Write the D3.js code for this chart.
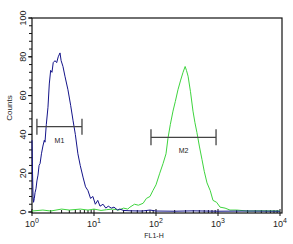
<!DOCTYPE html>
<html>
<head>
<meta charset="utf-8">
<script src="https://cdn.jsdelivr.net/npm/d3@7"></script>
<style>
  body { margin: 0; background: #fff; }
  text { font-family: "Liberation Sans", Arial, sans-serif; fill: #222; }
</style>
</head>
<body>
<div class="chart"></div>
<script>
// blue histogram (control), FL1-H value and counts
const blueX = [1.0, 1.02, 1.04, 1.06, 1.09, 1.12, 1.16, 1.2, 1.25, 1.3, 1.35, 1.42, 1.5, 1.58, 1.62, 1.7, 1.81, 1.9, 2.0, 2.1, 2.2, 2.35, 2.5, 2.65, 2.83, 2.95, 3.16, 3.4, 3.8, 4.2, 4.6, 5.0, 5.5, 6.0, 6.65, 7.3, 8.0, 8.8, 9.6, 10.5, 11.5, 12.5, 14, 15.5, 17, 19, 21, 24, 26, 30, 40, 60, 80, 100, 200, 400, 600, 1000, 3000, 10000];
const blueY = [37, 20, 8, 5, 7, 10, 12, 16, 19, 24, 25, 30, 34, 37, 36, 45, 54, 66, 73, 72, 77, 78, 77, 80, 82, 78, 75, 70, 63, 55, 47, 40, 30, 24, 18, 13, 11, 7, 8, 4, 6, 3, 4, 2, 3, 2, 2.5, 1, 1.5, 0.8, 0.6, 0.5, 1, 0.5, 0.4, 0.6, 0.5, 0.4, 0.5, 0.4];

// green histogram (stained)
const greenX = [1.0, 1.5, 2, 3, 4, 6, 8, 10, 13, 16, 20, 25, 30, 35, 38, 45, 52, 62, 70, 80, 89, 100, 115, 130, 145, 156, 170, 188, 205, 226, 250, 273, 295, 310, 329, 360, 395, 425, 457, 500, 552, 600, 665, 750, 830, 950, 1080, 1300, 1560, 2000, 3000, 5000, 10000];
const greenY = [0.5, 1, 0.5, 1.5, 1, 1.5, 1, 1.5, 0.8, 1.2, 1.5, 1, 2, 1.5, 2.5, 4, 3.5, 4.5, 7, 8, 11, 14, 20, 25, 30, 38, 45, 52, 57, 63, 68, 72, 75, 73, 70, 62, 52, 46, 41, 34, 27, 21, 15, 11, 6, 5, 2.5, 2, 1, 1, 0.5, 0.6, 0.5];

// gate markers
const markerNames = ['M1', 'M2'];
const markerFrom = [1.2, 83];
const markerTo = [6.4, 930];
const markerLevel = [44, 38.5];

const yTicks = [0, 20, 40, 60, 80, 100];
const xDecades = [0, 1, 2, 3, 4];

const width = 293, height = 244;
const svg = d3.select('.chart').append('svg')
  .attr('width', width)
  .attr('height', height);

const x = d3.scaleLog().domain([1, 10000]).range([32, 280]);
const y = d3.scaleLinear().domain([0, 100]).range([212, 18]);

// frame
svg.append('rect')
  .attr('x', 32).attr('y', 18)
  .attr('width', 250).attr('height', 195)
  .attr('fill', 'none')
  .attr('stroke', '#111')
  .attr('stroke-width', 1.2);

// y ticks
const yMinor = d3.range(0, 101, 4);
svg.selectAll('.ymin')
  .data(yMinor)
  .enter().append('line')
  .attr('x1', 29).attr('x2', 32)
  .attr('y1', d => y(d)).attr('y2', d => y(d))
  .attr('stroke', '#111');
svg.selectAll('.ymaj')
  .data(yTicks)
  .enter().append('line')
  .attr('x1', 28).attr('x2', 32)
  .attr('y1', d => y(d)).attr('y2', d => y(d))
  .attr('stroke', '#111');
svg.selectAll('.ylab')
  .data(yTicks)
  .enter().append('text')
  .attr('transform', d => 'translate(26,' + y(d) + ') rotate(-90)')
  .attr('text-anchor', 'middle')
  .attr('font-size', 9)
  .text(d => d);

svg.append('text')
  .attr('transform', 'translate(12,108) rotate(-90)')
  .attr('text-anchor', 'middle')
  .attr('font-size', 8)
  .text('Counts');

// x ticks (log)
const xMinor = [];
xDecades.slice(0, -1).forEach(function(e) {
  for (let k = 2; k < 10; k++) xMinor.push(k * Math.pow(10, e));
});
svg.selectAll('.xmin')
  .data(xMinor)
  .enter().append('line')
  .attr('x1', d => x(d)).attr('x2', d => x(d))
  .attr('y1', 213).attr('y2', 210)
  .attr('stroke', '#111');
svg.selectAll('.xmaj')
  .data(xDecades)
  .enter().append('line')
  .attr('x1', d => x(Math.pow(10, d))).attr('x2', d => x(Math.pow(10, d)))
  .attr('y1', 209).attr('y2', 216)
  .attr('stroke', '#111');
const xl = svg.selectAll('.xlab')
  .data(xDecades)
  .enter().append('text')
  .attr('x', d => x(Math.pow(10, d)))
  .attr('y', 227)
  .attr('text-anchor', 'middle')
  .attr('font-size', 9);
xl.append('tspan').text('10');
xl.append('tspan').attr('dy', -4).attr('font-size', 7).text(d => d);

svg.append('text')
  .attr('x', 154).attr('y', 238)
  .attr('text-anchor', 'middle')
  .attr('font-size', 7)
  .text('FL1-H');

// histograms
const line = d3.line()
  .x(d => x(d[0]))
  .y(d => y(d[1]));

svg.append('path')
  .datum(d3.zip(greenX, greenY))
  .attr('d', line)
  .attr('fill', 'none')
  .attr('stroke', '#3ed43e')
  .attr('stroke-width', 1);

svg.append('path')
  .datum(d3.zip(blueX, blueY))
  .attr('d', line)
  .attr('fill', 'none')
  .attr('stroke', '#14148a')
  .attr('stroke-width', 1);

// markers
const mk = svg.selectAll('.marker')
  .data(markerNames)
  .enter().append('g');
mk.append('line')
  .attr('x1', (d, i) => x(markerFrom[i])).attr('x2', (d, i) => x(markerTo[i]))
  .attr('y1', (d, i) => y(markerLevel[i])).attr('y2', (d, i) => y(markerLevel[i]))
  .attr('stroke', '#444').attr('stroke-width', 1.3);
mk.append('line')
  .attr('x1', (d, i) => x(markerFrom[i])).attr('x2', (d, i) => x(markerFrom[i]))
  .attr('y1', (d, i) => y(markerLevel[i]) - 8).attr('y2', (d, i) => y(markerLevel[i]) + 8)
  .attr('stroke', '#444').attr('stroke-width', 1.3);
mk.append('line')
  .attr('x1', (d, i) => x(markerTo[i])).attr('x2', (d, i) => x(markerTo[i]))
  .attr('y1', (d, i) => y(markerLevel[i]) - 8).attr('y2', (d, i) => y(markerLevel[i]) + 8)
  .attr('stroke', '#444').attr('stroke-width', 1.3);
mk.append('text')
  .attr('x', (d, i) => (x(markerFrom[i]) + x(markerTo[i])) / 2)
  .attr('y', (d, i) => y(markerLevel[i]) + 16)
  .attr('text-anchor', 'middle')
  .attr('font-size', 7)
  .text(d => d);
</script>
</body>
</html>
